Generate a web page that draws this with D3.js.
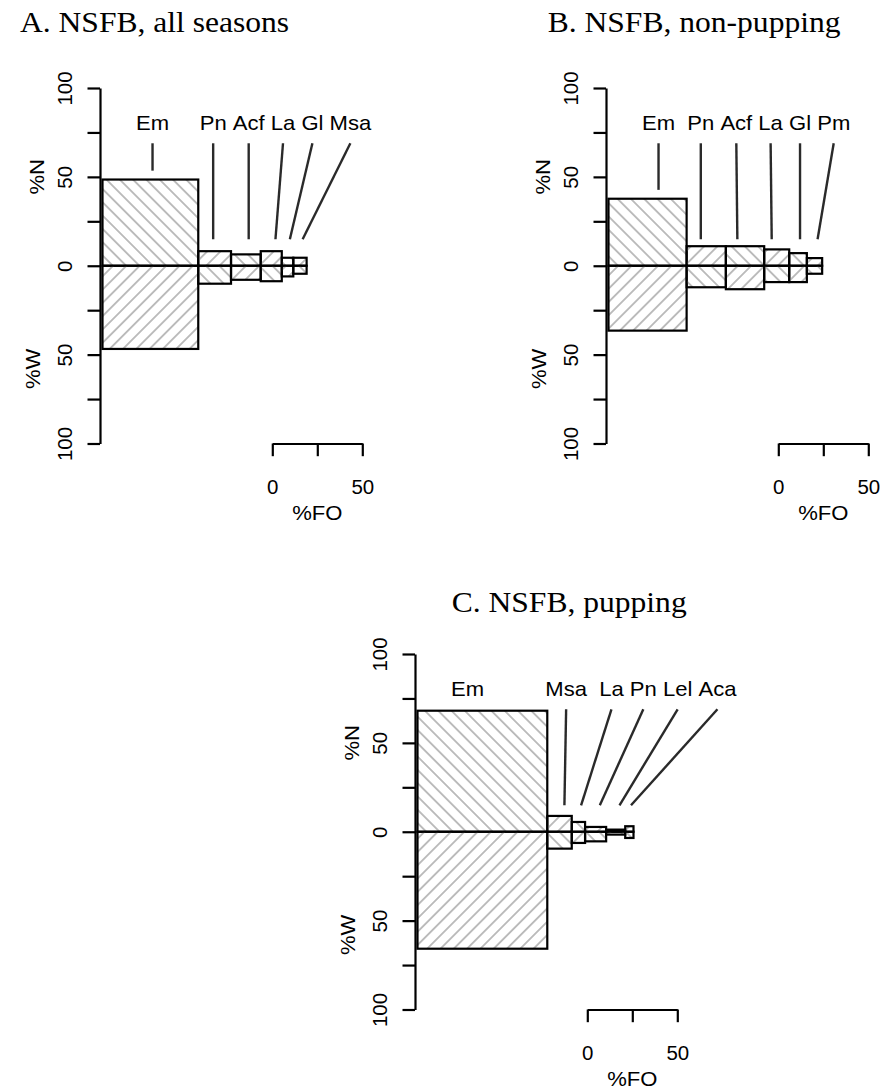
<!DOCTYPE html>
<html><head><meta charset="utf-8">
<script src="https://cdn.jsdelivr.net/npm/d3@7"></script>
<style>body{margin:0;background:#fff}svg{display:block}</style>
</head><body>
<svg id="chart" width="882" height="1090"></svg>
<script>
// ---------- data ----------
// Panel A: all seasons
const catsA = ["Em","Pn","Acf","La","Gl","Msa"];
const foA   = [53.2, 18.2, 16.5, 11.7, 6.4, 7.4];   // %FO (bar width)
const nA    = [48.5,  8.2,  6.4,  8.2, 4.5, 4.5];   // %N (up)
const wA    = [46.8, 10.1,  7.9,  8.7, 6.0, 4.5];   // %W (down)
// Panel B: non-pupping
const catsB = ["Em","Pn","Acf","La","Gl","Pm"];
const foB   = [43.4, 21.8, 21.3, 13.9, 9.8, 8.5];
const nB    = [37.7, 11.0, 11.0,  9.2, 7.1, 4.3];
const wB    = [36.5, 12.1, 13.2,  9.2, 9.2, 4.5];
// Panel C: pupping
const catsC = ["Em","Msa","La","Pn","Lel","Aca"];
const foC   = [72.1, 13.6, 7.4, 11.7, 10.6, 4.6];
const nC    = [68.1,  8.9, 5.5,  2.7,  1.2, 3.1];
const wC    = [65.8,  9.5, 6.3,  5.4,  1.6, 3.5];

const titles  = ["A. NSFB, all seasons", "B. NSFB, non-pupping", "C. NSFB, pupping"];
const yTicks  = [-100, -75, -50, -25, 0, 25, 50, 75, 100];
const foTicks = [0, 25, 50];

// ---------- layout ----------
const SX = 1.05;          // horizontal glyph widening for sans text
const SXS = 1.1;          // for serif titles
const SANS = "'Liberation Sans', Arial, sans-serif";
const SERIF = "'Liberation Serif', 'Times New Roman', serif";

const panels = [
  {title: titles[0], cats: catsA, fo: foA, n: nA, w: wA, axisX: 100, top: 88,  tx: 20,    ty: 32,    gaps: [0,5,1,1,1,1]},
  {title: titles[1], cats: catsB, fo: foB, n: nB, w: wB, axisX: 606, top: 88,  tx: 547.7, ty: 32,    gaps: [0,2,1,1,1,1]},
  {title: titles[2], cats: catsC, fo: foC, n: nC, w: wC, axisX: 415, top: 654, tx: 451.7, ty: 611.7, gaps: [0,10,2,1,1,1]}
];

const svg = d3.select("#chart");
const defs = svg.append("defs");
function hatch(id, ang) {
  const s = 9.4;
  const p = defs.append("pattern").attr("id", id).attr("patternUnits", "userSpaceOnUse")
    .attr("width", s).attr("height", s).attr("patternTransform", `rotate(${ang})`);
  p.append("line").attr("x1", s/2).attr("x2", s/2).attr("y1", -1).attr("y2", s+1)
    .attr("stroke", "#a9a9a9").attr("stroke-width", 1.5);
}
hatch("hBack", -45); // "\" lines
hatch("hFwd", 45);   // "/" lines

panels.forEach(P => {
  const g = svg.append("g");
  const y = d3.scaleLinear().domain([-100, 100]).range([P.top + 355.5, P.top]);
  const x = d3.scaleLinear().domain([0, 100]).range([P.axisX + 2.5, P.axisX + 182.5]);

  // title
  g.append("text").attr("transform", `translate(${P.tx},${P.ty}) scale(${SXS},1)`)
    .attr("font-family", SERIF).attr("font-size", 28.7).attr("fill", "#000").text(P.title);

  // bars
  const starts = [];
  let acc = 0;
  P.fo.forEach(f => { starts.push(acc); acc += f; });
  const bars = P.cats.map((c, i) => ({c, x0: starts[i], fo: P.fo[i], n: P.n[i], w: P.w[i], i}));

  const bg = g.append("g");
  bg.selectAll("rect.up").data(bars).join("rect").attr("class", "up")
    .attr("x", d => x(d.x0)).attr("width", d => x(d.x0 + d.fo) - x(d.x0))
    .attr("y", d => y(d.n)).attr("height", d => y(0) - y(d.n))
    .attr("fill", d => d.i % 2 === 0 ? "url(#hBack)" : "url(#hFwd)")
    .attr("stroke", "#000").attr("stroke-width", 2.2);
  bg.selectAll("rect.dn").data(bars).join("rect").attr("class", "dn")
    .attr("x", d => x(d.x0)).attr("width", d => x(d.x0 + d.fo) - x(d.x0))
    .attr("y", y(0)).attr("height", d => y(-d.w) - y(0))
    .attr("fill", d => d.i % 2 === 0 ? "url(#hFwd)" : "url(#hBack)")
    .attr("stroke", "#000").attr("stroke-width", 2.2);

  // y axis
  const yAxis = d3.axisLeft(y).tickValues(yTicks).tickSize(12.5).tickSizeOuter(0)
    .tickFormat(d => d % 50 === 0 ? String(Math.abs(d)) : "");
  g.append("g").attr("transform", `translate(${P.axisX},0)`).call(yAxis)
    .attr("font-family", SANS).attr("font-size", 19.5)
    .call(a => {
      a.select(".domain").attr("stroke-width", 2.2);
      a.selectAll(".tick line").attr("stroke-width", 2.2);
      a.selectAll(".tick text").attr("x", null).attr("dy", null).attr("fill", "#000")
        .attr("text-anchor", "middle")
        .attr("transform", `translate(-28,0) rotate(-90) scale(${SX},1)`);
    });

  // axis titles
  g.append("text").attr("transform", `translate(${P.axisX - 56},${y(50)}) rotate(-90) scale(${SX},1)`)
    .attr("text-anchor", "middle").attr("font-family", SANS).attr("font-size", 21).text("%N");
  g.append("text").attr("transform", `translate(${P.axisX - 60},${y(-58)}) rotate(-90) scale(${SX},1)`)
    .attr("text-anchor", "middle").attr("font-family", SANS).attr("font-size", 21).text("%W");

  // %FO scale bar
  const fx = d3.scaleLinear().domain([0, 50]).range([P.axisX + 172.3, P.axisX + 262.3]);
  const xAxis = d3.axisBottom(fx).tickValues(foTicks).tickSize(12.7).tickSizeOuter(0)
    .tickFormat(d => d === 25 ? "" : String(d));
  g.append("g").attr("transform", `translate(0,${y(-100)})`).call(xAxis)
    .attr("font-family", SANS).attr("font-size", 19.5)
    .call(a => {
      a.select(".domain").attr("stroke-width", 2.2);
      a.selectAll(".tick line").attr("stroke-width", 2.2);
      a.selectAll(".tick text").attr("y", 0).attr("dy", null).attr("fill", "#000")
        .attr("transform", `translate(0,50.5) scale(${SX},1)`);
    });
  g.append("text").attr("transform", `translate(${fx(25)},${y(-100) + 76.5}) scale(${SX},1)`)
    .attr("text-anchor", "middle").attr("font-family", SANS).attr("font-size", 21).text("%FO");

  // category labels (one packed line) and leader lines
  const SPACE = 0.2778 * 21 * SX;
  let cursor = x(0) + 33.5;
  const centers = [];
  const lg = g.append("g");
  P.cats.forEach((c, i) => {
    cursor += P.gaps[i] * SPACE;
    const t = lg.append("text").attr("transform", `translate(${cursor},${y(76.4)}) scale(${SX},1)`)
      .attr("font-family", SANS).attr("font-size", 21).text(c);
    const wd = t.node().getComputedTextLength() * SX;
    centers.push(cursor + wd / 2);
    cursor += wd;
  });
  const topVal = 68.9;
  const leaders = bars.map(d => {
    const bot = d.n > 20 ? d.n + 5 : 14.9;
    const cx = x(d.x0 + d.fo / 2), half = (x(d.x0 + d.fo) - x(d.x0)) * 0.2;
    const lx = centers[d.i];
    return {x1: lx, y1: y(topVal), x2: Math.max(cx - half, Math.min(cx + half, lx)), y2: y(bot), show: bot < topVal};
  }).filter(d => d.show);
  g.append("g").selectAll("line").data(leaders).join("line")
    .attr("x1", d => d.x1).attr("y1", d => d.y1).attr("x2", d => d.x2).attr("y2", d => d.y2)
    .attr("stroke", "#2a2a2a").attr("stroke-width", 2.4);
});
</script>
</body></html>
